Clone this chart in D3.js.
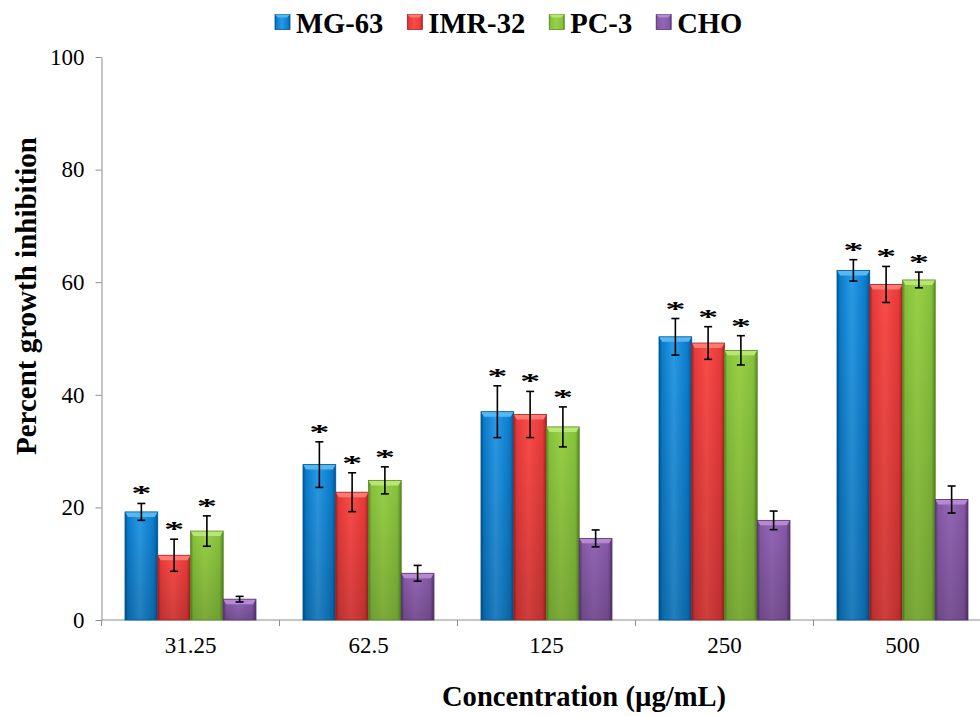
<!DOCTYPE html>
<html>
<head>
<meta charset="utf-8">
<script src="https://cdn.jsdelivr.net/npm/d3@7/dist/d3.min.js"></script>
<style>
  html, body { margin: 0; padding: 0; background: #fff; }
  svg { display: block; }
  text { font-family: "Liberation Serif", "Times New Roman", serif; fill: #000; }
</style>
</head>
<body>
<svg id="chart" width="980" height="716"></svg>
<script>
// ---------- data ----------
const categories = ["31.25", "62.5", "125", "250", "500"];
const seriesNames = ["MG-63", "IMR-32", "PC-3", "CHO"];
const mg63  = [19.2, 27.6, 37.0, 50.3, 62.1];
const imr32 = [11.5, 22.7, 36.5, 49.2, 59.6];
const pc3   = [15.8, 24.8, 34.3, 47.9, 60.4];
const cho   = [3.7, 8.3, 14.5, 17.7, 21.4];
const mg63Err  = [1.5, 4.05, 4.6, 3.25, 1.9];
const imr32Err = [2.85, 3.45, 4.1, 2.9, 3.2];
const pc3Err   = [2.7, 2.4, 3.55, 2.6, 1.4];
const choErr   = [0.5, 1.4, 1.5, 1.65, 2.4];
const significant = [true, true, true, false]; // asterisk per series
const yTicks = [0, 20, 40, 60, 80, 100];

const values = [mg63, imr32, pc3, cho];
const errors = [mg63Err, imr32Err, pc3Err, choErr];

(function () {
// ---------- styles ----------
const palette = [
  { base: "#0a7ccc", light: "#2a9ae6", dark: "#005693", top: "#56b8f2" },
  { base: "#e63a3a", light: "#fa4c48", dark: "#a82222", top: "#ff7a70" },
  { base: "#86c23c", light: "#98d046", dark: "#5a8a22", top: "#b8e672" },
  { base: "#8558a6", light: "#9466b6", dark: "#58346f", top: "#b58ad2" }
];

const svg = d3.select("#chart");
const W = 980;
const pLeft = 101.5, pRight = 991.5, pTop = 57, pBottom = 620;

const x = d3.scaleBand().domain(categories).range([pLeft, pRight])
  .paddingInner(0.264).paddingOuter(0.132);
const xs = d3.scaleBand().domain(seriesNames).range([0, x.bandwidth()]).padding(0);
const y = d3.scaleLinear().domain([0, 100]).range([pBottom, pTop]);
const step = x.step();

// gradients
const defs = svg.append("defs");
palette.forEach((p, i) => {
  const g = defs.append("linearGradient").attr("id", "hg" + i)
    .attr("x1", 0).attr("x2", 1).attr("y1", 0).attr("y2", 0);
  g.append("stop").attr("offset", "0%").attr("stop-color", p.dark);
  g.append("stop").attr("offset", "9%").attr("stop-color", p.base);
  g.append("stop").attr("offset", "45%").attr("stop-color", p.light);
  g.append("stop").attr("offset", "88%").attr("stop-color", p.base);
  g.append("stop").attr("offset", "100%").attr("stop-color", p.dark);
  const v = defs.append("linearGradient").attr("id", "vg" + i)
    .attr("x1", 0).attr("x2", 0).attr("y1", 0).attr("y2", 1);
  v.append("stop").attr("offset", "0%").attr("stop-color", "#000").attr("stop-opacity", 0);
  v.append("stop").attr("offset", "100%").attr("stop-color", "#000").attr("stop-opacity", 0.18);
});

// ---------- axes ----------
const axisColor = "#8c8c8c";
const yAxis = svg.append("g").attr("transform", `translate(${pLeft},0)`)
  .call(d3.axisLeft(y).tickValues(yTicks).tickSize(6).tickPadding(11).tickSizeOuter(0));
yAxis.select(".domain").attr("stroke", axisColor);
yAxis.selectAll(".tick line").attr("stroke", axisColor);
yAxis.selectAll(".tick text").style("font-family", "Liberation Serif, serif")
  .style("font-size", "23px").attr("fill", "#000");

const xAxis = svg.append("g").attr("transform", `translate(0,${pBottom})`)
  .call(d3.axisBottom(x).tickSize(0).tickPadding(17).tickSizeOuter(0));
xAxis.select(".domain").attr("stroke", axisColor).attr("d", `M${pLeft},0H${W}`);
xAxis.selectAll(".tick text").style("font-family", "Liberation Serif, serif")
  .style("font-size", "23px").attr("fill", "#000");
const boundaries = categories.map(c => x(c) - step * x.paddingInner() / 2);
xAxis.selectAll("line.bnd").data(boundaries).enter().append("line")
  .attr("class", "bnd").attr("x1", d => d).attr("x2", d => d)
  .attr("y1", 0).attr("y2", 6).attr("stroke", axisColor);

// ---------- bars ----------
const flat = [];
seriesNames.forEach((s, si) => {
  categories.forEach((c, ci) => {
    flat.push({ s, si, c, v: values[si][ci], e: errors[si][ci] });
  });
});

const barG = svg.append("g");
const bars = barG.selectAll("g.bar").data(flat).enter().append("g").attr("class", "bar");
bars.append("rect")
  .attr("x", d => x(d.c) + xs(d.s))
  .attr("y", d => y(d.v))
  .attr("width", xs.bandwidth())
  .attr("height", d => y(0) - y(d.v))
  .attr("fill", d => `url(#hg${d.si})`);
bars.append("rect")
  .attr("x", d => x(d.c) + xs(d.s))
  .attr("y", d => y(d.v))
  .attr("width", xs.bandwidth())
  .attr("height", d => y(0) - y(d.v))
  .attr("fill", d => `url(#vg${d.si})`);
bars.append("path")
  .attr("d", d => {
    const x0 = x(d.c) + xs(d.s), x1 = x0 + xs.bandwidth(), t = y(d.v);
    return `M${x0},${t}L${x1},${t}L${x1 - 3},${t + 5}L${x0 + 3},${t + 5}Z`;
  })
  .attr("fill", d => palette[d.si].top);
bars.append("rect")
  .attr("x", d => x(d.c) + xs(d.s))
  .attr("y", d => y(d.v))
  .attr("width", xs.bandwidth())
  .attr("height", d => y(0) - y(d.v))
  .attr("fill", "none")
  .attr("stroke", d => palette[d.si].dark)
  .attr("stroke-width", 0.8);

// ---------- error bars ----------
const errG = svg.append("g").attr("stroke", "#000").attr("stroke-width", 1.6);
flat.forEach(d => {
  const cx = x(d.c) + xs(d.s) + xs.bandwidth() / 2;
  const yt = y(d.v + d.e), yb = y(d.v - d.e);
  errG.append("line").attr("x1", cx).attr("x2", cx).attr("y1", yt).attr("y2", yb);
  errG.append("line").attr("x1", cx - 4).attr("x2", cx + 4).attr("y1", yt).attr("y2", yt);
  errG.append("line").attr("x1", cx - 4).attr("x2", cx + 4).attr("y1", yb).attr("y2", yb);
});

// ---------- asterisks ----------
flat.filter(d => significant[d.si]).forEach(d => {
  const cx = x(d.c) + xs(d.s) + xs.bandwidth() / 2;
  const yt = y(d.v + d.e);
  svg.append("text")
    .attr("transform", `translate(${cx},${yt - 3}) scale(1.5,0.75)`)
    .attr("text-anchor", "middle")
    .style("font-size", "27px").style("font-weight", "bold")
    .text("*");
});

// ---------- titles ----------
svg.append("text")
  .attr("transform", `translate(36,296) rotate(-90)`)
  .attr("text-anchor", "middle")
  .style("font-size", "29px").style("font-weight", "bold")
  .text("Percent growth inhibition");

svg.append("text")
  .attr("x", 584).attr("y", 706)
  .attr("text-anchor", "middle")
  .style("font-size", "28.6px").style("font-weight", "bold")
  .text("Concentration (µg/mL)");

// ---------- legend ----------
const legend = svg.append("g");
let lx = 275;
seriesNames.forEach((s, i) => {
  const p = palette[i];
  legend.append("rect").attr("x", lx).attr("y", 14.5).attr("width", 15).attr("height", 15)
    .attr("fill", `url(#hg${i})`).attr("stroke", p.dark).attr("stroke-width", 0.8);
  legend.append("path")
    .attr("d", `M${lx},14.5L${lx + 15},14.5L${lx + 12},17.5L${lx + 3},17.5Z`)
    .attr("fill", p.top);
  const t = legend.append("text").attr("x", lx + 21).attr("y", 33)
    .style("font-size", "28.6px").style("font-weight", "bold").text(s);
  lx += 21 + t.node().getComputedTextLength() + 24;
});
})();
</script>
</body>
</html>
